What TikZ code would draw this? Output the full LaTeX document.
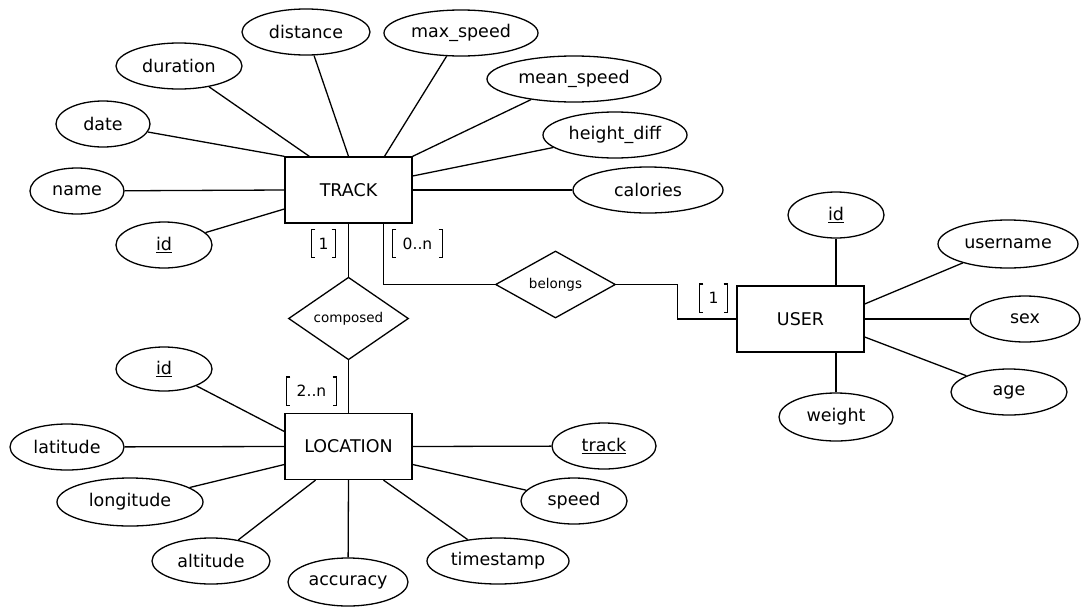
\documentclass[tikz,border=0pt]{standalone}
\usepackage{fontspec}
\setmainfont{DejaVu Sans}
\usetikzlibrary{shapes.geometric}

\newcommand\attrfont{\fontsize{17.5}{20}\selectfont}
\newcommand\relfont{\fontsize{13.5}{16}\selectfont}
\newcommand\cardfont{\fontsize{15.5}{18}\selectfont}

\tikzset{
  every path/.style={line width=1.3pt},
  entity/.style={draw, rectangle, minimum width=127, minimum height=66, inner sep=0pt, font=\attrfont},
  attr/.style={draw, ellipse, minimum height=46, inner sep=0pt, font=\attrfont},
  rel/.style={draw, diamond, minimum width=120, minimum height=67, inner sep=0pt, font=\relfont},
  card/.style={minimum height=27, inner sep=0pt, font=\cardfont},
  link/.style={line width=1.3pt},
  bracketline/.style={line width=1.3pt}
}

% square brackets around a cardinality label
\newcommand\cardbrackets[1]{%
  \draw[bracketline] ([xshift=4]#1.north west) -- (#1.north west) -- (#1.south west) -- ([xshift=4]#1.south west);
  \draw[bracketline] ([xshift=-4]#1.north east) -- (#1.north east) -- (#1.south east) -- ([xshift=-4]#1.south east);
}

\begin{document}
\begin{tikzpicture}[x=1pt,y=-1pt]
\useasboundingbox (0,0) rectangle (1081,608);

% entities
\node[entity] (track) at (348.5,190) {TRACK};
\node[entity] (user) at (800.5,319) {USER};
\node[entity] (location) at (348.5,446.5) {LOCATION};

% relationships
\node[rel] (composed) at (348.5,318.5) {composed};
\node[rel] (belongs) at (555.5,284.5) {belongs};

% TRACK attributes
\node[attr, minimum width=128] (distance) at (306,32) {distance};
\node[attr, minimum width=154] (maxspeed) at (461,33) {max\_speed};
\node[attr, minimum width=126] (duration) at (179,66) {duration};
\node[attr, minimum width=174] (meanspeed) at (574,79) {mean\_speed};
\node[attr, minimum width=94] (date) at (103,124) {date};
\node[attr, minimum width=144] (heightdiff) at (615,135) {height\_diff};
\node[attr, minimum width=94] (name) at (77,191) {name};
\node[attr, minimum width=150] (calories) at (648,190) {calories};
\node[attr, minimum width=96] (tid) at (164,245) {\underline{id}};

% USER attributes
\node[attr, minimum width=96] (uid) at (836,215) {\underline{id}};
\node[attr, minimum width=140, minimum height=48] (username) at (1008,244) {username};
\node[attr, minimum width=110] (sex) at (1025,319) {sex};
\node[attr, minimum width=116] (age) at (1009,392) {age};
\node[attr, minimum width=114, minimum height=48] (weight) at (836,417) {weight};

% LOCATION attributes
\node[attr, minimum width=96, minimum height=44] (lid) at (164,369) {\underline{id}};
\node[attr, minimum width=114] (latitude) at (67,447) {latitude};
\node[attr, minimum width=146, minimum height=48] (longitude) at (130,502) {longitude};
\node[attr, minimum width=118] (altitude) at (211,561) {altitude};
\node[attr, minimum width=120, minimum height=48] (accuracy) at (348,582) {accuracy};
\node[attr, minimum width=142] (timestamp) at (498,561) {timestamp};
\node[attr, minimum width=106] (speed) at (574,501) {speed};
\node[attr, minimum width=104] (ltrack) at (604,446) {\underline{track}};

% TRACK links
\draw[link] (duration) -- ([xshift=25]track.north west);
\draw[link] (date) -- (track.north west);
\draw[link] (name) -- (track.west);
\draw[link] (tid) -- ([yshift=-19]track.west);
\draw[link] (distance) -- (track.north);
\draw[link] (maxspeed) -- ([xshift=36]track.north);
\draw[link] (meanspeed) -- (track.north east);
\draw[link] (heightdiff) -- ([yshift=14]track.east);
\draw[link] (calories) -- (track.east);

% USER links
\draw[link] (uid) -- ([xshift=35.5]user.north);
\draw[link] (username) -- ([yshift=15]user.east);
\draw[link] (sex) -- (user.east);
\draw[link] (age) -- ([yshift=-18]user.east);
\draw[link] (weight) -- ([xshift=35.5]user.south);

% LOCATION links
\draw[link] (lid) -- ([yshift=15]location.west);
\draw[link] (latitude) -- (location.west);
\draw[link] (longitude) -- ([yshift=-18]location.west);
\draw[link] (altitude) -- ([xshift=-33]location.south);
\draw[link] (accuracy) -- (location.south);
\draw[link] (timestamp) -- ([xshift=35]location.south);
\draw[link] (speed) -- ([yshift=-18]location.east);
\draw[link] (ltrack) -- (location.east);

% relationship links
\draw[link] (track.south) -- (composed.north);
\draw[link] (composed.south) -- (location.north);
\draw[link] ([xshift=35]track.south) |- (belongs.west);
\draw[link] (belongs.east) -- ++(61,0) |- (user.west);

% cardinalities
\node[card, minimum width=23] (c1) at (323.5,243.5) {1};
\node[card, minimum width=49] (c0n) at (417.5,243.5) {0..n};
\node[card, minimum width=27] (cu1) at (713.5,298) {1};
\node[card, minimum width=49] (c2n) at (311.5,391) {2..n};
\cardbrackets{c1}
\cardbrackets{c0n}
\cardbrackets{cu1}
\cardbrackets{c2n}
\end{tikzpicture}
\end{document}
